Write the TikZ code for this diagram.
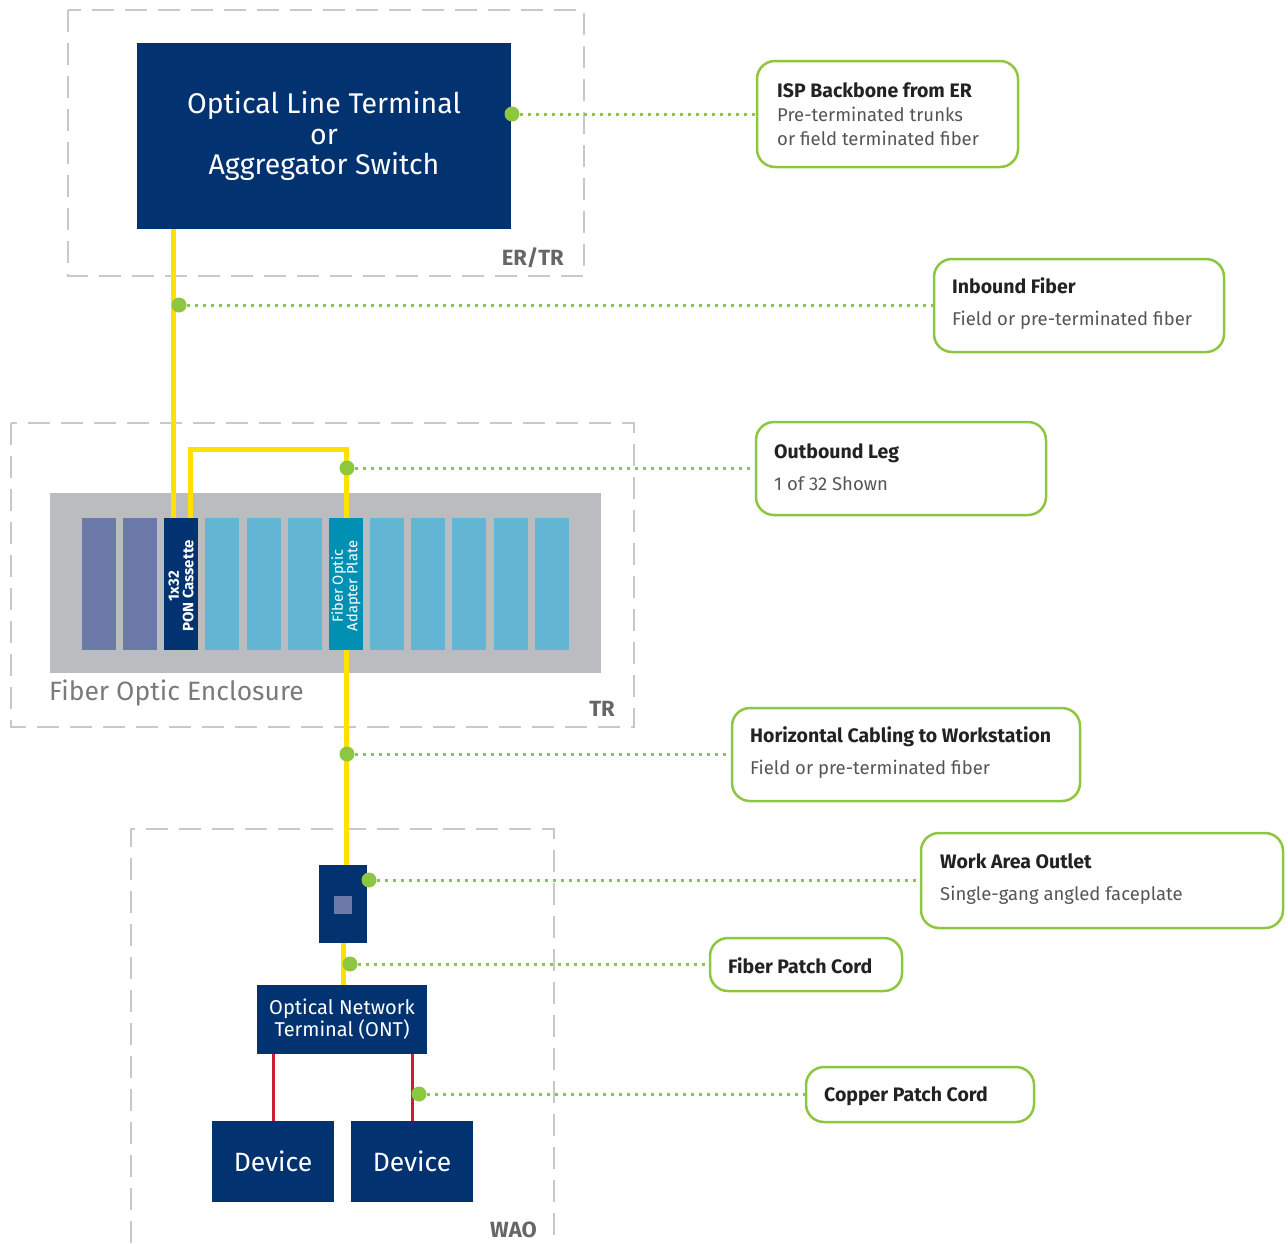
\documentclass[tikz,border=0pt]{standalone}
\usepackage{fontspec}
\setmainfont{Fira Sans}
\usetikzlibrary{calc}
\definecolor{navy}{HTML}{033270}
\definecolor{fibery}{HTML}{FFE000}
\definecolor{lgreen}{HTML}{8DC63F}
\definecolor{encgrey}{HTML}{BBBCC0}
\definecolor{slotpurple}{HTML}{6B7AA8}
\definecolor{slotblue}{HTML}{62B5D3}
\definecolor{slotteal}{HTML}{0090B2}
\definecolor{dashgrey}{HTML}{C8C8C8}
\definecolor{copper}{HTML}{C8202F}
\definecolor{labgrey}{HTML}{666666}
\definecolor{txtdark}{HTML}{222222}
\definecolor{txtlight}{HTML}{555555}
\definecolor{enctext}{HTML}{7A7A7A}
\tikzset{
  area/.style={draw=dashgrey, line width=1.5pt, dash pattern=on 22pt off 11pt},
  arealabel/.style={text=labgrey, inner sep=0, font=\bfseries\fontsize{22}{24}\selectfont},
  blockbox/.style={rectangle, fill=navy, text=white, inner sep=0, outer sep=0, align=center},
  slotbox/.style={rectangle, inner sep=0, outer sep=0, minimum width=34pt, minimum height=132pt},
  fiber/.style={draw=fibery, line width=5pt},
  copperline/.style={draw=copper, line width=3pt},
  leader/.style={draw=lgreen, line width=3pt, dash pattern=on 3pt off 5pt},
  gdot/.style={circle, fill=lgreen, inner sep=0, minimum size=15pt},
  callbox/.style={rectangle, draw=lgreen, line width=2.5pt, rounded corners=18pt, inner sep=0},
  calltext/.style={anchor=west, align=left, inner sep=0, text=txtlight, font=\fontsize{18.5}{32}\selectfont}
}
\newcommand{\hd}[1]{\textcolor{txtdark}{\fontsize{19.5}{32}\selectfont\textbf{#1}}}
\begin{document}
\begin{tikzpicture}[x=1pt,y=-1pt]
\useasboundingbox (0,0) rectangle (1288,1243);
% areas
\draw[area] (68,10) rectangle (584,276);
\draw[area] (11,423) rectangle (634,727);
\draw[area] (131,1243) -- (131,829) -- (554,829) -- (554,1243);
\node[arealabel, anchor=base east] (lerr) at (564,265) {ER/TR};
\node[arealabel, anchor=base east] (ltr) at (615,716) {TR};
\node[arealabel, anchor=base east] (lwao) at (537,1237) {WAO};
% enclosure
\node[rectangle, fill=encgrey, minimum width=551pt, minimum height=180pt, inner sep=0] (enc) at (325.5,583) {};
\node[anchor=base west, inner sep=0, text=enctext, font=\fontsize{26.5}{30}\selectfont] (enclabel) at (49,700) {Fiber Optic Enclosure};
\foreach \i/\x/\c in {1/99/slotpurple,2/140/slotpurple,3/181/navy,4/222/slotblue,5/264/slotblue,6/305/slotblue,7/346/slotteal,8/387/slotblue,9/428/slotblue,10/469/slotblue,11/511/slotblue,12/552/slotblue}
  \node[slotbox, fill=\c] (s\i) at (\x,584) {};
\node[rotate=90, text=white, align=center, inner sep=0, font=\bfseries\fontsize{15}{14.5}\selectfont] (pontext) at ([yshift=-2pt]s3.center) {1x32\\PON Cassette};
\node[rotate=90, text=white, align=center, inner sep=0, font=\fontsize{14.7}{14.5}\selectfont] (adptext) at ([yshift=-2pt]s7.center) {Fiber Optic\\Adapter Plate};
% blocks
\node[blockbox, minimum width=374pt, minimum height=186pt, font=\fontsize{28.5}{30.5}\selectfont] (olt) at (324,136) {Optical Line Terminal\\or\\Aggregator Switch};
\node[blockbox, minimum width=48pt, minimum height=78pt] (outlet) at (343,904) {};
\node[rectangle, fill=slotpurple, minimum size=18pt, inner sep=0] (port) at (343,905) {};
\node[blockbox, minimum width=170pt, minimum height=69pt, font=\fontsize{20}{22}\selectfont] (ont) at (342,1019.5) {Optical Network\\Terminal (ONT)};
\node[blockbox, minimum width=122pt, minimum height=81pt, font=\fontsize{26.5}{28}\selectfont] (dev1) at (273,1161.5) {Device};
\node[blockbox, minimum width=122pt, minimum height=81pt, font=\fontsize{26.5}{28}\selectfont] (dev2) at (412,1161.5) {Device};
% fibers
\coordinate (fa) at ($(s3.north)+(-8,0)$);
\coordinate (fb) at ($(s3.north)+(9,0)$);
\draw[fiber] (fa) -- (fa |- olt.south);
\draw[fiber] (fb) -- ++(0,-69) -| (s7.north);
\draw[fiber] (s7.south) -- (s7.south |- outlet.north);
\draw[fiber] (outlet.south) -- (outlet.south |- ont.north);
% copper
\draw[copperline] (dev1.north) -- (dev1.north |- ont.south);
\draw[copperline] (dev2.north) -- (dev2.north |- ont.south);
% callouts
\node[callbox, minimum width=261pt, minimum height=106pt] (c1) at (887.5,114) {};
\node[callbox, minimum width=290pt, minimum height=93pt] (c2) at (1079,305.5) {};
\node[callbox, minimum width=290pt, minimum height=93pt] (c3) at (901,468.5) {};
\node[callbox, minimum width=348pt, minimum height=93pt] (c4) at (906,754.5) {};
\node[callbox, minimum width=362pt, minimum height=95pt] (c5) at (1102,880.5) {};
\node[callbox, minimum width=192pt, minimum height=53pt] (c6) at (806,964.5) {};
\node[callbox, minimum width=228pt, minimum height=55pt] (c7) at (920,1094.5) {};
\node[calltext, font=\fontsize{18.5}{24}\selectfont] (t1) at (777,114) {\textcolor{txtdark}{\fontsize{19.5}{24}\selectfont\textbf{ISP Backbone from ER}}\\Pre-terminated trunks\\or field terminated fiber};
\node[calltext] (t2) at (952,304) {\hd{Inbound Fiber}\\Field or pre-terminated fiber};
\node[calltext] (t3) at (774,467) {\hd{Outbound Leg}\\1 of 32 Shown};
\node[calltext] (t4) at (750,753) {\hd{Horizontal Cabling to Workstation}\\Field or pre-terminated fiber};
\node[calltext] (t5) at (940,879) {\hd{Work Area Outlet}\\Single-gang angled faceplate};
\node[calltext] (t6) at (728,966) {\hd{Fiber Patch Cord}};
\node[calltext] (t7) at (824,1096) {\hd{Copper Patch Cord}};
% dots and leaders
\node[gdot] (d1) at (512,114) {};
\node[gdot] (d2) at (179,305) {};
\node[gdot] (d3) at (347,468) {};
\node[gdot] (d4) at (347,754) {};
\node[gdot] (d5) at (369,880) {};
\node[gdot] (d6) at (350,964) {};
\node[gdot] (d7) at (419,1094) {};
\draw[leader] (d1) -- (c1.west |- d1);
\draw[leader] (d2) -- (c2.west |- d2);
\draw[leader] (d3) -- (c3.west |- d3);
\draw[leader] (d4) -- (c4.west |- d4);
\draw[leader] (d5) -- (c5.west |- d5);
\draw[leader] (d6) -- (c6.west |- d6);
\draw[leader] (d7) -- (c7.west |- d7);
\end{tikzpicture}
\end{document}
